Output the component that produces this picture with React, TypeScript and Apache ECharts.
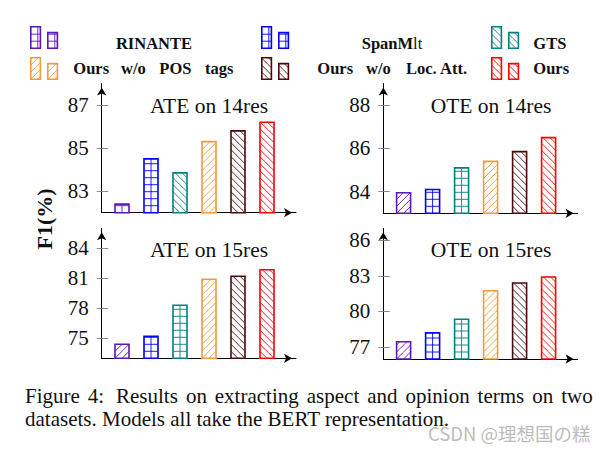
import React, { useEffect, useRef } from 'react';
import * as echarts from 'echarts';

// ---------- data ----------
const categories = ['RINANTE', 'SpanMlt', 'GTS', 'Ours w/o POS tags', 'Ours w/o Loc. Att.', 'Ours'];
const ate14 = [82.4, 84.5, 83.85, 85.3, 85.8, 86.2];
const ote14 = [83.95, 84.1, 85.1, 85.4, 85.85, 86.5];
const ate15 = [74.4, 75.2, 78.3, 80.9, 81.2, 81.85];
const ote15 = [77.45, 78.2, 79.35, 81.75, 82.4, 82.9];
const ate14Ticks = [83, 85, 87];
const ote14Ticks = [84, 86, 88];
const ate15Ticks = [75, 78, 81, 84];
const ote15Ticks = [77, 80, 83, 86];
const panelTitles = ['ATE on 14res', 'OTE on 14res', 'ATE on 15res', 'OTE on 15res'];
const yMins = [82, 83, 73, 76];
const yMaxs = [88, 89, 86, 87];

// ---------- styles ----------
const colors = ['#5c17b8', '#0000ff', '#008080', '#f59a3a', '#4a0a0a', '#ff0000'];
const legendPatterns = ['grid', 'grid', 'nw', 'ne', 'nw', 'nw'];
const panelPatterns = [
  ['grid', 'grid', 'nw', 'ne', 'nw', 'nw'],
  ['ne', 'grid', 'grid', 'ne', 'nw', 'nw'],
  ['ne', 'grid', 'grid', 'ne', 'nw', 'nw'],
  ['ne', 'grid', 'grid', 'ne', 'nw', 'nw'],
];
const grids = [
  { left: 101.7, top: 83.5, width: 194.3, height: 129.2 },
  { left: 383.3, top: 83.5, width: 194.3, height: 129.8 },
  { left: 101.7, top: 228.3, width: 194.3, height: 130 },
  { left: 383.3, top: 228.3, width: 194.3, height: 130.7 },
];
const titlePos = [
  [209, 105.5],
  [491, 105.5],
  [209, 250],
  [491, 250.3],
];
const SERIF = "'Liberation Serif', 'Times New Roman', 'DejaVu Serif', serif";
const STEP = 7;

function patternShapes(x: number, y: number, w: number, h: number, pattern: string, color: string) {
  const out: any[] = [];
  const xr = x + w;
  const yb = y + h;
  const ls = { stroke: color, lineWidth: 0.9 };
  if (pattern === 'grid') {
    for (let gx = x + STEP; gx < xr - 0.8; gx += STEP) {
      out.push({ type: 'line', shape: { x1: gx, y1: y, x2: gx, y2: yb }, style: ls });
    }
    for (let gy = yb - STEP; gy > y + 0.8; gy -= STEP) {
      out.push({ type: 'line', shape: { x1: x, y1: gy, x2: xr, y2: gy }, style: ls });
    }
  } else {
    const s = pattern === 'ne' ? -1 : 1;
    const kMin = -Math.ceil(h / STEP) - 2;
    const kMax = Math.ceil((w + h) / STEP) + 2;
    for (let k = kMin; k <= kMax; k++) {
      const px = x + k * STEP;
      const py = yb;
      let t0 = x - px;
      let t1 = xr - px;
      let a: number, b: number;
      if (s === -1) {
        a = py - yb;
        b = py - y;
      } else {
        a = y - py;
        b = yb - py;
      }
      t0 = Math.max(t0, a);
      t1 = Math.min(t1, b);
      if (t1 - t0 > 0.3) {
        out.push({
          type: 'line',
          shape: { x1: px + t0, y1: py + s * t0, x2: px + t1, y2: py + s * t1 },
          style: ls,
        });
      }
    }
  }
  return out;
}

function barShapes(x: number, y: number, w: number, h: number, pattern: string, color: string) {
  return [
    { type: 'rect', shape: { x, y, width: w, height: h }, style: { fill: '#fff', stroke: 'none' } },
    ...patternShapes(x, y, w, h, pattern, color),
    { type: 'rect', shape: { x, y, width: w, height: h }, style: { fill: 'none', stroke: color, lineWidth: 1.6 } },
  ];
}

const App: React.FC = () => {
  const ref = useRef<HTMLDivElement>(null);

  useEffect(() => {
    if (!ref.current) return;
    const chart = echarts.init(ref.current, null, { renderer: 'svg' });
    const panelData = [ate14, ote14, ate15, ote15];
    const panelTicks = [ate14Ticks, ote14Ticks, ate15Ticks, ote15Ticks];

    const xAxis: any[] = [];
    const yAxis: any[] = [];
    const series: any[] = [];
    grids.forEach((_, g) => {
      xAxis.push({
        type: 'value',
        gridIndex: g,
        min: -0.7,
        max: 6,
        axisLine: {
          show: true,
          onZero: false,
          symbol: ['none', 'arrow'],
          symbolSize: [7, 8],
          symbolOffset: [0, -4],
          lineStyle: { color: '#000', width: 1 },
        },
        axisTick: { show: false },
        axisLabel: { show: false },
        splitLine: { show: false },
      });
      yAxis.push({
        type: 'value',
        gridIndex: g,
        position: 'left',
        min: yMins[g],
        max: yMaxs[g],
        axisLine: {
          show: true,
          onZero: false,
          symbol: ['none', 'arrow'],
          symbolSize: [7, 8],
          symbolOffset: [0, -4],
          lineStyle: { color: '#000', width: 1 },
        },
        axisTick: { show: true, length: 5, customValues: panelTicks[g], lineStyle: { color: '#8a8a8a', width: 1 } },
        axisLabel: {
          show: true,
          customValues: panelTicks[g],
          margin: 13,
          fontFamily: SERIF,
          fontSize: 21,
          color: '#111',
        },
        splitLine: { show: false },
      });
      yAxis.push({
        type: 'value',
        gridIndex: g,
        position: 'left',
        offset: 0,
        min: yMins[g],
        max: yMaxs[g],
        axisLine: { show: false, onZero: false },
        axisTick: { show: true, inside: true, length: 6.5, customValues: panelTicks[g], lineStyle: { color: '#8a8a8a', width: 1 } },
        axisLabel: { show: false },
        splitLine: { show: false },
      });
      const vals = panelData[g];
      const pats = panelPatterns[g];
      const yMin = yMins[g];
      series.push({
        type: 'custom',
        name: panelTitles[g],
        xAxisIndex: g,
        yAxisIndex: g * 2,
        data: vals.map((v, i) => [i, v]),
        encode: { x: 0, y: 1 },
        renderItem: (params: any, api: any) => {
          const i = api.value(0);
          const v = api.value(1);
          const idx = params.dataIndex;
          const top = api.coord([i, v]);
          const bottom = api.coord([i, yMin]);
          const w = 14;
          return {
            type: 'group',
            children: barShapes(top[0] - w / 2, top[1], w, bottom[1] - top[1], pats[idx], colors[idx]),
          };
        },
      });
    });

    const graphic: any[] = [];
    // panel titles
    panelTitles.forEach((t, g) => {
      graphic.push({
        type: 'text',
        x: titlePos[g][0],
        y: titlePos[g][1],
        style: { text: t, fontFamily: SERIF, fontSize: 21.5, fill: '#111', textAlign: 'center', textVerticalAlign: 'middle' },
      });
    });

    // legend icons
    const groupX = [30, 261, 491];
    categories.forEach((_, k) => {
      const row = Math.floor(k / 3);
      const col = k % 3;
      const gx = groupX[col];
      const baseY = row === 0 ? 49 : 80;
      const c = colors[k];
      const p = legendPatterns[k];
      graphic.push(...barShapes(gx + 0.8, baseY - 22.2, 9.6, 21.4, p, c));
      graphic.push(...barShapes(gx + 17.8, baseY - 16.4, 9.6, 15.6, p, c));
    });

    // legend texts
    const lt = (text: string, x: number, y: number, align = 'left') => ({
      type: 'text',
      x,
      y,
      style: { text, fontFamily: SERIF, fontSize: 16.5, fontWeight: 'bold', fill: '#111', textAlign: align, textVerticalAlign: 'middle' },
    });
    graphic.push(lt('RINANTE', 154, 43, 'center'));
    graphic.push({
      type: 'text',
      x: 392,
      y: 43,
      style: {
        text: '{b|SpanM}{n|lt}',
        textAlign: 'center',
        textVerticalAlign: 'middle',
        rich: {
          b: { fontFamily: SERIF, fontSize: 16.5, fontWeight: 'bold', fill: '#111' },
          n: { fontFamily: SERIF, fontSize: 16.5, fontWeight: 'normal', fill: '#111' },
        },
      },
    });
    graphic.push(lt('GTS', 533.3, 43));
    [['Ours', 73.3], ['w/o', 121], ['POS', 159.3], ['tags', 205]].forEach(([t, x]) => graphic.push(lt(t as string, x as number, 68)));
    [['Ours', 317.3], ['w/o', 366], ['Loc.', 406], ['Att.', 440]].forEach(([t, x]) => graphic.push(lt(t as string, x as number, 68)));
    graphic.push(lt('Ours', 533.3, 68));

    // y label
    graphic.push({
      type: 'text',
      x: 44,
      y: 219,
      rotation: Math.PI / 2,
      style: { text: 'F1(%)', fontFamily: SERIF, fontSize: 22, fontWeight: 'bold', fill: '#111', textAlign: 'center', textVerticalAlign: 'middle' },
    });

    // caption (first line justified word by word)
    const capWords: [string, number][] = [
      ['Figure', 25], ['4:', 87.8], ['Results', 116.0], ['on', 185.9], ['extracting', 214.8], ['aspect', 306.8],
      ['and', 367.2], ['opinion', 405.5], ['terms', 477.6], ['on', 532.3], ['two', 561.2],
    ];
    capWords.forEach(([t, x]) => {
      graphic.push({
        type: 'text',
        x,
        y: 396,
        style: { text: t, fontFamily: SERIF, fontSize: 21, fill: '#111', textAlign: 'left', textVerticalAlign: 'middle' },
      });
    });
    graphic.push({
      type: 'text',
      x: 25,
      y: 418.5,
      style: {
        text: 'datasets. Models all take the BERT representation.',
        fontFamily: SERIF,
        fontSize: 21,
        fill: '#111',
        textAlign: 'left',
        textVerticalAlign: 'middle',
      },
    });
    graphic.push({
      type: 'text',
      x: 428,
      y: 433,
      style: {
        text: 'CSDN @理想国の糕',
        fontFamily: "'Noto Sans CJK SC', 'Noto Sans', sans-serif",
        fontSize: 18.5,
        fill: '#bcbcbc',
        textAlign: 'left',
        textVerticalAlign: 'middle',
      },
    });

    chart.setOption({
      animation: false,
      backgroundColor: '#fff',
      grid: grids.map((g) => ({ ...g, containLabel: false })),
      xAxis,
      yAxis,
      series,
      graphic,
    });
    return () => chart.dispose();
  }, []);

  return <div ref={ref} style={{ position: 'absolute', left: 0, top: 0, width: 606, height: 449, background: '#fff' }} />;
};

export default App;
